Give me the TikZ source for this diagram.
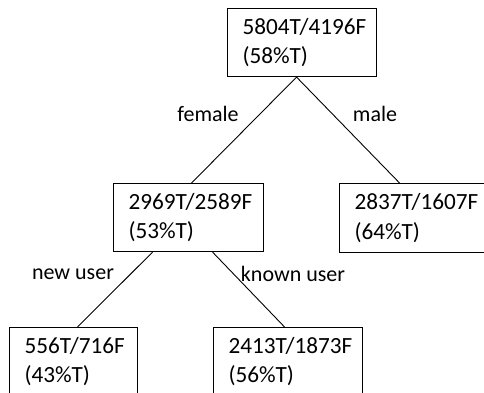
\documentclass[tikz,border=0pt]{standalone}
\usepackage{fontspec}
\setmainfont{Carlito}
\begin{document}
\begin{tikzpicture}[x=1pt,y=-1pt,
  box/.style={draw, line width=1.1pt, anchor=north west, inner xsep=15pt, inner ysep=0pt,
    align=left, font=\fontsize{23.2}{29.5}\selectfont},
  lab/.style={font=\fontsize{22}{26}\selectfont},
  edge/.style={line width=0.9pt}]
\clip (0,0) rectangle (484,393);
\node[box, text width=119pt, minimum height=68pt] (root) at (227,8) {5804T/4196F\\(58\%T)};
\node[box, text width=120pt, minimum height=68pt] (ml) at (113,183) {2969T/2589F\\(53\%T)};
\node[box, text width=120pt, minimum height=69pt] (mr) at (339,183) {2837T/1607F\\(64\%T)};
\node[box, text width=98pt, minimum height=68pt] (bl) at (9,327) {556T/716F\\(43\%T)};
\node[box, text width=119pt, minimum height=68pt] (br) at (213,327) {2413T/1873F\\(56\%T)};
\draw[edge] ([xshift=-5.5pt]root.south) -- ([xshift=3pt]ml.north);
\draw[edge] ([xshift=-5.5pt]root.south) -- ([xshift=-15pt]mr.north);
\draw[edge] ([xshift=-36pt]ml.south) -- ([xshift=4pt]bl.north);
\draw[edge] ([xshift=24pt]ml.south) -- ([xshift=-3.5pt]br.north);
\node[lab] (female) at (208,114) {female};
\node[lab] (male) at (375,114) {male};
\node[lab] (newuser) at (73,274) {new user};
\node[lab] (knownuser) at (293,274) {known user};
\end{tikzpicture}
\end{document}
